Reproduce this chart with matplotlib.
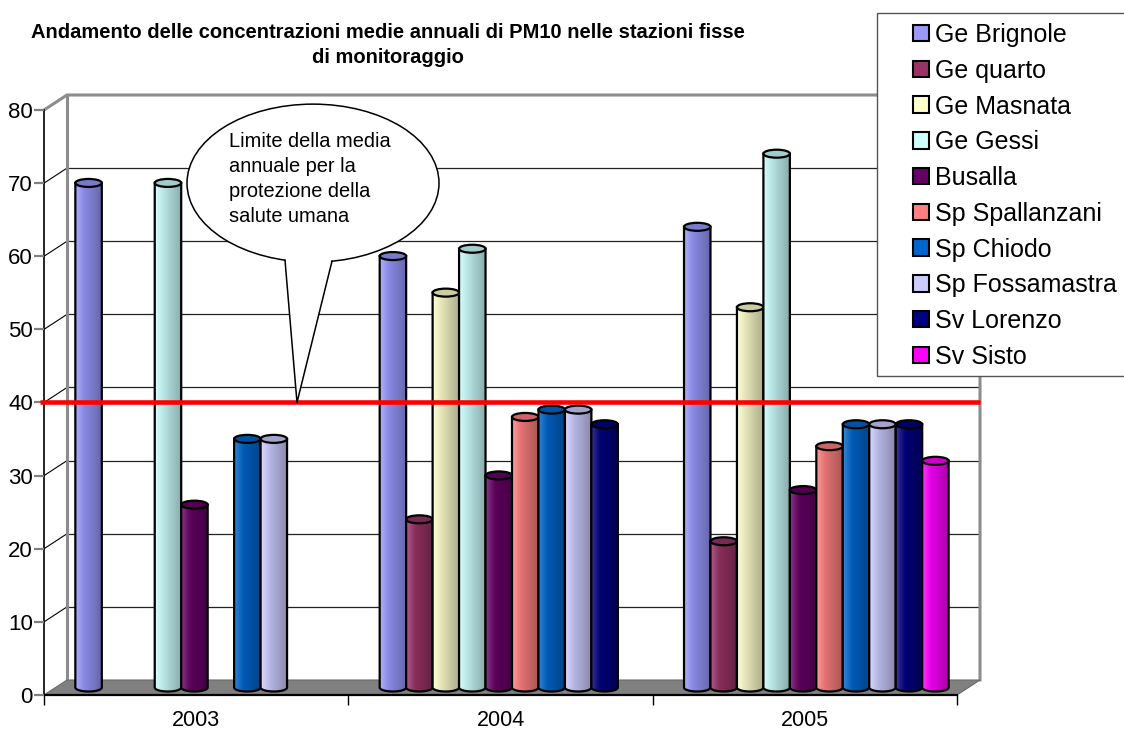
import numpy as np
import matplotlib
matplotlib.use("Agg")
import matplotlib.pyplot as plt
from matplotlib.patches import Ellipse, PathPatch, Polygon, Rectangle, Patch
from matplotlib.path import Path
from matplotlib.colors import to_rgb

plt.rcParams['font.family'] = ['Liberation Sans', 'DejaVu Sans']

# dati: medie annuali PM10 (None = stazione non attiva)
anni = ['2003', '2004', '2005']
stazioni = ['Ge Brignole', 'Ge quarto', 'Ge Masnata', 'Ge Gessi', 'Busalla',
            'Sp Spallanzani', 'Sp Chiodo', 'Sp Fossamastra', 'Sv Lorenzo', 'Sv Sisto']
colori = ['#9999FF', '#993366', '#FFFFCC', '#CCFFFF', '#660066',
          '#FF8080', '#0066CC', '#CCCCFF', '#000080', '#FF00FF']
pm10_2003 = [69, None, None, 69, 25, None, 34, 34, None, None]
pm10_2004 = [59, 23, 54, 60, 29, 37, 38, 38, 36, None]
pm10_2005 = [63, 20, 52, 73, 27, 33, 36, 36, 36, 31]
limite = 40

W, H = 1124, 731
fig = plt.figure(figsize=(W / 100, H / 100), dpi=100)

# piano frontale del grafico (in pixel)
ax_l, ax_b, ax_w, ax_h = 44, 36, 913, 585
ax = fig.add_axes([ax_l / W, ax_b / H, ax_w / W, ax_h / H])
ax.set_xlim(-0.5, 2.5)
ax.set_ylim(0, 80)
ax.patch.set_alpha(0)

px_x = ax_w / 3.0
px_y = ax_h / 80.0
DX = 23 / px_x      # profondita' 3D in unita' dati
DY = 15 / px_y
ELL = 8 / px_y      # altezza ellissi dei cilindri

# parete di fondo
x_back0, x_back1 = -0.5 + DX, 2.5 + DX
ax.add_patch(Rectangle((x_back0, DY), x_back1 - x_back0, 80, facecolor='white',
                       edgecolor='none', zorder=0.4, clip_on=False))
for v in range(10, 80, 10):
    ax.plot([x_back0, x_back1], [v + DY, v + DY], color='#222222', lw=0.9,
            zorder=0.6, clip_on=False)
    ax.plot([-0.5, x_back0], [v, v + DY], color='black', lw=0.8,
            zorder=0.6, clip_on=False)
ax.plot([-0.5, x_back0, x_back0, x_back1, x_back1],
        [80, 80 + DY, 80 + DY, 80 + DY, DY], color='#8c8c8c', lw=2.2,
        zorder=0.7, clip_on=False, solid_joinstyle='miter')
ax.plot([x_back0, x_back0], [DY, 80 + DY], color='#8c8c8c', lw=2.2,
        zorder=0.7, clip_on=False)

# pavimento
ax.add_patch(Polygon([(-0.5, 0), (2.5, 0), (2.5 + DX, DY), (-0.5 + DX, DY)],
                     closed=True, facecolor='#808080', edgecolor='#6a6a6a',
                     lw=0.8, zorder=0.8, clip_on=False))


def cilindro(x0, larg, val, colore, z):
    base = np.array(to_rgb(colore))
    xc = x0 + larg / 2
    y0 = DY / 2
    yt = val + DY / 2
    # sfumatura orizzontale del corpo
    t = np.linspace(0, 1, 60)
    chiaro = np.clip(0.22 * (1 - t / 0.35), 0, None)[:, None]
    scuro = (1 - 0.33 * t)[:, None]
    grad = (base + (1 - base) * chiaro) * scuro
    img = ax.imshow(grad[None, :, :], extent=(x0, x0 + larg, y0 - ELL / 2, yt),
                    aspect='auto', zorder=z, interpolation='bilinear')
    ang = np.linspace(np.pi, 2 * np.pi, 40)
    arco = np.column_stack([xc + larg / 2 * np.cos(ang), y0 + ELL / 2 * np.sin(ang)])
    verts = np.vstack([[x0, yt], arco, [x0 + larg, yt], [x0, yt]])
    codes = [Path.MOVETO] + [Path.LINETO] * (len(verts) - 2) + [Path.CLOSEPOLY]
    sagoma = PathPatch(Path(verts, codes), facecolor='none', edgecolor='black',
                       lw=1.6, zorder=z + 0.1, clip_on=False)
    ax.add_patch(sagoma)
    img.set_clip_path(sagoma)
    ax.add_patch(Ellipse((xc, yt), larg, ELL, facecolor=base * 0.8,
                         edgecolor='black', lw=1.6, zorder=z + 0.2, clip_on=False))


n = len(stazioni)
slot = 1 / (n + 1.5)
z = 2
for g, valori in enumerate([pm10_2003, pm10_2004, pm10_2005]):
    for j, v in enumerate(valori):
        if v is None:
            continue
        x0 = g - n * slot / 2 + j * slot + DX / 2
        cilindro(x0, slot, v, colori[j], z)
        z += 0.5
ax.set_xlim(-0.5, 2.5)
ax.set_ylim(0, 80)

# linea del limite annuale
ax.plot([-0.5 - 4 / px_x, x_back1], [limite, limite], color='#FF0000', lw=3.3,
        zorder=40, clip_on=False, solid_capstyle='butt')

# fumetto
cx, cy = -0.5 + 269 / px_x, 70.0
ew, eh = 252 / px_x, 158 / px_y
ax.add_patch(Ellipse((cx, cy), ew, eh, facecolor='white', edgecolor='black',
                     lw=1.1, zorder=41, clip_on=False))
bx = np.array([-0.5 + 241 / px_x, -0.5 + 288 / px_x])
by = cy - eh / 2 * np.sqrt(1 - ((bx - cx) / (ew / 2)) ** 2)
punta = (-0.5 + 253 / px_x, limite)
ax.add_patch(Polygon([(bx[0], by[0] + 0.6), punta, (bx[1], by[1] + 0.6)],
                     closed=True, facecolor='white', edgecolor='none',
                     zorder=42, clip_on=False))
ax.plot([bx[0], punta[0], bx[1]], [by[0], punta[1], by[1]], color='black',
        lw=1.1, zorder=43, clip_on=False)
ax.text(-0.5 + 185 / px_x, 70.6,
        'Limite della media\nannuale per la\nprotezione della\nsalute umana',
        ha='left', va='center', fontsize=14.4, linespacing=1.4, zorder=44)

# assi
for s in ['top', 'right']:
    ax.spines[s].set_visible(False)
ax.spines['left'].set_color('black')
ax.spines['left'].set_linewidth(1.2)
ax.spines['bottom'].set_color('black')
ax.spines['bottom'].set_linewidth(1.6)
ax.spines['left'].set_zorder(1)
ax.spines['bottom'].set_zorder(1)
ax.set_yticks(range(0, 81, 10))
ax.tick_params(axis='y', direction='out', length=7, width=1.6, color='#808080',
               labelsize=16, pad=1)
ax.set_xticks([0, 1, 2])
ax.set_xticklabels(anni)
ax.set_xticks([-0.5, 0.5, 1.5, 2.5], minor=True)
ax.tick_params(axis='x', which='major', length=0, labelsize=15.5, pad=11)
ax.tick_params(axis='x', which='minor', direction='out', length=7, width=1,
               color='black')

# titolo
fig.text(388 / W, 1 - 45 / H,
         'Andamento delle concentrazioni medie annuali di PM10 nelle stazioni fisse\ndi monitoraggio',
         ha='center', va='center', fontsize=14.5, fontweight='bold', linespacing=1.35)

# legenda
fig.patches.append(Rectangle((877 / W, 1 - 376 / H), 300 / W, 363 / H,
                             transform=fig.transFigure, facecolor='white',
                             edgecolor='#555555', lw=1, zorder=5))
maniglie = [Patch(facecolor=c, edgecolor='black', lw=1.5) for c in colori]
leg = fig.legend(maniglie, stazioni, loc='upper left',
                 bbox_to_anchor=(913 / W, 1 - 23 / H), frameon=False,
                 fontsize=18, handlelength=0.64, handleheight=0.64,
                 handletextpad=0.24, labelspacing=0.47, borderpad=0,
                 borderaxespad=0)
leg.set_zorder(6)

fig.savefig('out.png', dpi=100)
